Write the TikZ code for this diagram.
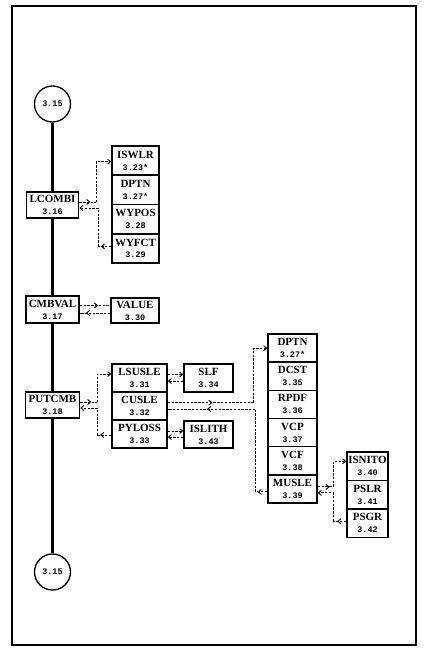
\documentclass[tikz,border=0pt]{standalone}
\usepackage{fontspec}
\usetikzlibrary{arrows.meta,decorations.markings}
\newfontfamily\nmfont{Liberation Serif}
\newfontfamily\nbfont{Liberation Mono}
\newcommand\nm{\fontsize{11bp}{11bp}\selectfont\nmfont\bfseries}
\newcommand\nb{\fontsize{8.5bp}{11bp}\selectfont\nbfont\bfseries}
\tikzset{
  x=1bp, y=-1bp,
  >={Straight Barb[length=3bp,width=5bp]},
  bx/.style 2 args={draw, line width=1.5bp, inner sep=0pt, align=center,
     minimum width=#1 bp, minimum height=#2 bp},
  circ/.style={draw, circle, line width=1.3bp, minimum size=36bp, inner sep=0pt, font=\nb},
  mainline/.style={line width=2.2bp},
  dl/.style={line width=0.9bp, dash pattern=on 2.5bp off 1.3bp},
  midarrow/.style={postaction={decorate, decoration={markings,
     mark=at position #1 with {\arrow{>}}}}},
}
\begin{document}
\begin{tikzpicture}
\useasboundingbox (0,0) rectangle (425,658);
\draw[line width=2.5bp] (12,6) rectangle (416,645);

% main column
\node[circ] (top) at (52.5,104) {3.15};
\node[circ] (bot) at (52.5,572) {3.15};
\node[bx={52}{26}] (lcombi) at (52.5,205) {\nm LCOMBI\\\nb 3.16};
\node[bx={53}{27}] (cmbval) at (52.5,309.5) {\nm CMBVAL\\\nb 3.17};
\node[bx={54}{26}] (putcmb) at (52.5,405) {\nm PUTCMB\\\nb 3.18};
\draw[mainline] (top) -- (lcombi);
\draw[mainline] (lcombi) -- (cmbval);
\draw[mainline] (cmbval) -- (putcmb);
\draw[mainline] (putcmb) -- (bot);

% LCOMBI column
\node[bx={47}{29.25}] (iswlr) at (135.5,160.6) {\nm ISWLR\\\nb 3.23*};
\node[bx={47}{29.25}] (dptna) at (135.5,189.9) {\nm DPTN\\\nb 3.27*};
\node[bx={47}{29.25}] (wypos) at (135.5,219.1) {\nm WYPOS\\\nb 3.28};
\node[bx={47}{29.25}] (wyfct) at (135.5,248.4) {\nm WYFCT\\\nb 3.29};

% VALUE
\node[bx={48}{25}] (value) at (135,310.5) {\nm VALUE\\\nb 3.30};

% PUTCMB column
\node[bx={55}{28}] (lsusle) at (139.5,378) {\nm LSUSLE\\\nb 3.31};
\node[bx={55}{28}] (cusle) at (139.5,406) {\nm CUSLE\\\nb 3.32};
\node[bx={55}{28}] (pyloss) at (139.5,434) {\nm PYLOSS\\\nb 3.33};
\node[bx={49}{28}] (slf) at (208.5,378) {\nm SLF\\\nb 3.34};
\node[bx={49}{27}] (islith) at (208.5,434.5) {\nm ISLITH\\\nb 3.43};

% CUSLE column
\node[bx={49}{28.17}] (dptnb) at (292.5,348.1) {\nm DPTN\\\nb 3.27*};
\node[bx={49}{28.17}] (dcst) at (292.5,376.25) {\nm DCST\\\nb 3.35};
\node[bx={49}{28.17}] (rpdf) at (292.5,404.4) {\nm RPDF\\\nb 3.36};
\node[bx={49}{28.17}] (vcp) at (292.5,432.6) {\nm VCP\\\nb 3.37};
\node[bx={49}{28.17}] (vcf) at (292.5,460.75) {\nm VCF\\\nb 3.38};
\node[bx={49}{28.17}] (musle) at (292.5,488.9) {\nm MUSLE\\\nb 3.39};

% MUSLE column
\node[bx={41}{28.5}] (isnito) at (367.5,466.25) {\nm ISNITO\\\nb 3.40};
\node[bx={41}{28.5}] (pslr) at (367.5,494.75) {\nm PSLR\\\nb 3.41};
\node[bx={41}{28.5}] (psgr) at (367.5,523.25) {\nm PSGR\\\nb 3.42};

% LCOMBI connectors
\coordinate (a1) at ([yshift=3bp]lcombi.east);
\draw[dl,midarrow=0.65] (a1) -- ++(17,0) coordinate (a2);
\draw[dl,->] (a2) |- ([yshift=-1bp]iswlr.west);
\coordinate (a3) at ([yshift=2bp]wyfct.west);
\draw[dl,midarrow=0.8] (a3) -- ++(-13,0) coordinate (a4);
\draw[dl,->] (a4) |- ([yshift=-3bp]lcombi.east);

% CMBVAL connectors
\coordinate (b1) at ([yshift=4bp]cmbval.east);
\draw[dl,midarrow=0.6] (b1) -- (b1 -| value.west);
\coordinate (b2) at ([yshift=-2.5bp]value.west);
\draw[dl,midarrow=0.8] (b2) -- (b2 -| cmbval.east);

% PUTCMB connectors
\coordinate (c1) at ([yshift=3bp]putcmb.east);
\draw[dl,midarrow=0.65] (c1) -- ++(17,0) coordinate (c2);
\draw[dl,->] (c2) |- ([yshift=4bp]lsusle.west);
\coordinate (c3) at ([yshift=-1bp]pyloss.west);
\draw[dl,midarrow=0.8] (c3) -- ++(-14,0) coordinate (c4);
\draw[dl,->] (c4) |- ([yshift=-3bp]putcmb.east);

% LSUSLE - SLF, PYLOSS - ISLITH
\coordinate (d1) at ([yshift=3.5bp]lsusle.east);
\draw[dl,->] (d1) -- (d1 -| slf.west);
\coordinate (d2) at ([yshift=-3bp]slf.west);
\draw[dl,->] (d2) -- (d2 -| lsusle.east);
\coordinate (e1) at ([yshift=3bp]pyloss.east);
\draw[dl,->] (e1) -- (e1 -| islith.west);
\coordinate (e2) at ([yshift=-2.5bp]islith.west);
\draw[dl,->] (e2) -- (e2 -| pyloss.east);

% CUSLE connectors
\coordinate (f1) at ([yshift=3.3bp]cusle.east);
\draw[dl,midarrow=0.52] (f1) -- ++(86,0) coordinate (f2);
\draw[dl,->] (f2) |- (dptnb.west);
\coordinate (f3) at ([yshift=-3bp]musle.west);
\draw[dl,midarrow=0.8] (f3) -- ++(-12,0) coordinate (f4);
\coordinate (f5) at ([yshift=-3bp]cusle.east);
\draw[dl] (f4) -- (f4 |- f5) coordinate (f6);
\draw[dl,midarrow=0.55] (f6) -- (f5);

% MUSLE connectors
\coordinate (g1) at ([yshift=2bp]musle.east);
\draw[dl,midarrow=0.75] (g1) -- ++(16,0) coordinate (g2);
\draw[dl,->] (g2) |- ([yshift=5bp]isnito.west);
\coordinate (g3) at ([yshift=2bp]psgr.west);
\draw[dl,midarrow=0.7] (g3) -- ++(-13,0) coordinate (g4);
\draw[dl,->] (g4) |- ([yshift=-4bp]musle.east);
\end{tikzpicture}
\end{document}
